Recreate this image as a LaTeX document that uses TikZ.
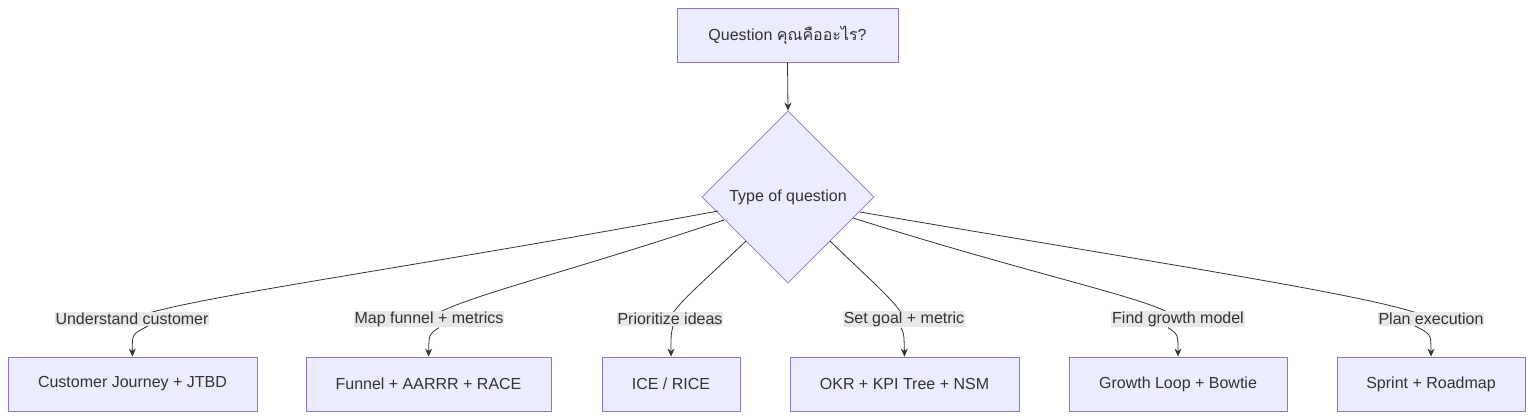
\documentclass[tikz,border=0pt]{standalone}
\usepackage{fontspec}
\setmainfont{Liberation Sans}
\newfontfamily\thaifont[Script=Thai]{Loma}
\usetikzlibrary{shapes.geometric,arrows.meta}
\definecolor{nfill}{HTML}{ECECFF}
\definecolor{nline}{HTML}{9370DB}
\definecolor{tcol}{HTML}{333333}
\definecolor{lbg}{HTML}{E8E8E8}
\begin{document}
\begin{tikzpicture}[x=1pt,y=-1pt,
  box/.style={draw=nline,fill=nfill,line width=0.8pt,minimum height=54pt,text=tcol,font=\fontsize{16}{19}\selectfont,inner sep=0pt},
  dia/.style={diamond,draw=nline,fill=nfill,line width=0.8pt,minimum width=172pt,minimum height=172pt,text=tcol,font=\fontsize{16}{19}\selectfont,inner sep=0pt},
  lab/.style={fill=lbg,text=tcol,font=\fontsize{16}{19}\selectfont,inner sep=1pt},
  con/.style={draw=tcol,line width=0.8pt},
  arr/.style={con,-{Stealth[length=8pt,width=7pt]}}]
\useasboundingbox (0,0) rectangle (1534,419);
\node[box,minimum width=221pt] (q) at (787.5,35) {Question {\thaifont คุณคืออะไร}?};
\node[dia] (d) at (788,197) {Type of question};
\draw[arr] (q.south) -- (d.north);
\node[box,minimum width=249pt] (b1) at (132.5,384) {Customer Journey + JTBD};
\node[box,minimum width=245pt] (b2) at (428.5,384) {Funnel + AARRR + RACE};
\node[box,minimum width=138pt] (b3) at (671,384) {ICE / RICE};
\node[box,minimum width=229pt] (b4) at (904.5,384) {OKR + KPI Tree + NSM};
\node[box,minimum width=218pt] (b5) at (1178,384) {Growth Loop + Bowtie};
\node[box,minimum width=188pt] (b6) at (1431,384) {Sprint + Roadmap};
\coordinate (s1) at (718,211);
\coordinate (s2) at (724,220);
\coordinate (s3) at (746,241);
\coordinate (s4) at (830,241);
\coordinate (s5) at (853,218);
\coordinate (s6) at (860,212);
\draw[con] (s1) .. controls (400,270) and (170,300) .. (132,319);
\draw[con] (s2) .. controls (560,275) and (450,300) .. (429,319);
\draw[con] (s3) .. controls (700,285) and (675,305) .. (670,319);
\draw[con] (s4) .. controls (870,280) and (900,305) .. (904,319);
\draw[con] (s5) .. controls (1050,280) and (1160,300) .. (1178,319);
\draw[con] (s6) .. controls (1200,270) and (1400,300) .. (1431,319);
\node[lab] (l1) at (132,319) {Understand customer};
\node[lab] (l2) at (429,319) {Map funnel + metrics};
\node[lab] (l3) at (670,319) {Prioritize ideas};
\node[lab] (l4) at (904,319) {Set goal + metric};
\node[lab] (l5) at (1178,319) {Find growth model};
\node[lab] (l6) at (1431,319) {Plan execution};
\draw[arr] (l1.south) ++(16,0) .. controls (132,334) .. (b1.north);
\draw[arr] (l2.south) ++(10,0) .. controls (429,334) .. (b2.north);
\draw[arr] (l3.south) ++(3,0) .. controls (671,334) .. (b3.north);
\draw[arr] (l4.south) ++(-3,0) .. controls (904,334) .. (b4.north);
\draw[arr] (l5.south) ++(-10,0) .. controls (1178,334) .. (b5.north);
\draw[arr] (l6.south) ++(-16,0) .. controls (1431,334) .. (b6.north);
\end{tikzpicture}
\end{document}
